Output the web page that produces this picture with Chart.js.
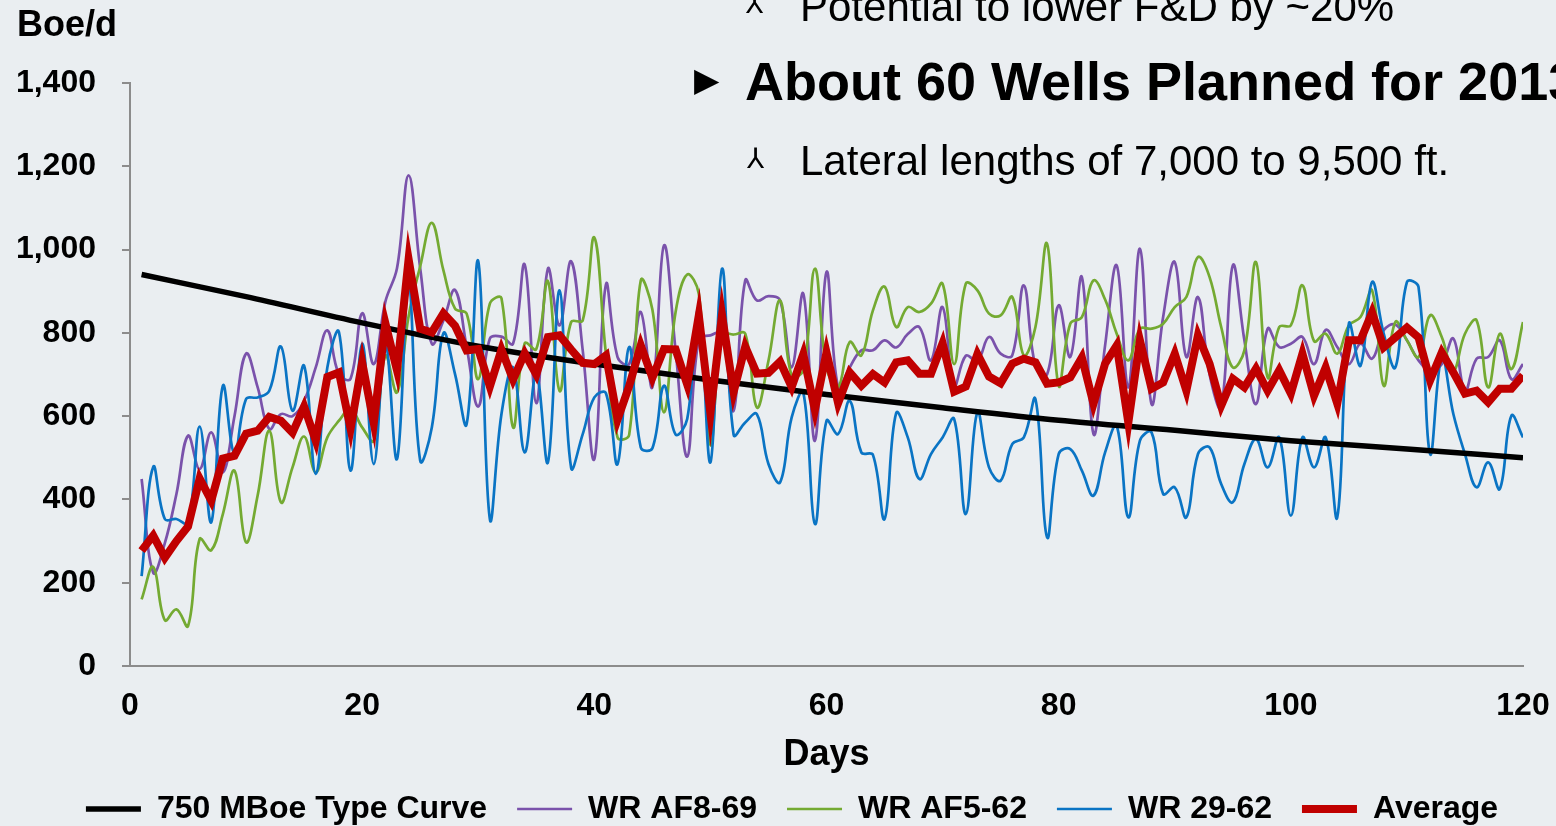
<!DOCTYPE html>
<html>
<head>
<meta charset="utf-8">
<script src="https://cdn.jsdelivr.net/npm/chart.js@4.4.0/dist/chart.umd.min.js"></script>
<style>
  html, body { margin: 0; padding: 0; background: #eaeef1; overflow: hidden; }
  #wrap { position: relative; width: 1556px; height: 826px; overflow: hidden; font-family: "Liberation Sans", Arial, sans-serif; }
  canvas { position: absolute; left: 0; top: 0; }
  .txt { position: absolute; white-space: nowrap; line-height: 1; color: #000; }
  .sym { font-family: "DejaVu Sans", sans-serif; }
</style>
</head>
<body>
<div id="wrap">
  <canvas id="chart" width="1556" height="826"></canvas>
  <div class="txt" style="left:17px; top:6px; font-size:36px; font-weight:bold;">Boe/d</div>
  <div class="txt sym" style="left:746px; top:-10px; font-size:28px;">&#x2144;</div>
  <div class="txt" style="left:800px; top:-14px; font-size:42px;">Potential to lower F&amp;D by ~20%</div>
  <div class="txt sym" style="left:694px; top:63px; font-size:33px;">&#x25B6;</div>
  <div class="txt" style="left:745px; top:54px; font-size:54px; font-weight:bold;">About 60 Wells Planned for 2013</div>
  <div class="txt sym" style="left:747px; top:145px; font-size:28px;">&#x2144;</div>
  <div class="txt" style="left:800px; top:140px; font-size:42px;">Lateral lengths of 7,000 to 9,500 ft.</div>
</div>
<script>
// days on production
var days = Array.from({ length: 120 }, function (_, i) { return i + 1; });

// 750 MBoe type curve (read at a few days, smooth line)
var typeDays = [1, 10, 20, 30, 40, 50, 60, 70, 80, 90, 100, 110, 120];
var typeCurve = [940, 887, 824, 768, 725, 687, 652, 620, 590, 566, 541, 521, 500];

var wrAF869 = [449,224,295,413,553,473,561,465,600,750, 669,569,605,600,637,717,806,700,690,847,
  725,875,955,1178,955,774,830,903,766,623, 786,791,774,964,631,954,818,972,758,497,
  916,742,725,850,669,1010,758,503,785,794, 800,613,926,878,888,878,717,894,541,946,
  669,717,758,758,782,765,797,814,734,862, 673,745,733,790,750,746,914,720,700,866,
  742,934,557,770,962,669,1002,629,838,970, 742,886,700,620,962,782,629,810,766,774,
  790,725,807,766,725,774,738,806,820,782, 734,709,725,786,661,738,742,782,689,725];

var wrAF562 = [160,238,110,136,96,305,278,365,469,297, 410,565,393,477,551,465,549,589,617,573,
  541,745,657,840,960,1064,950,858,846,689, 870,883,573,775,761,924,661,826,830,1029,
  750,549,555,926,856,609,850,940,894,531, 796,796,798,621,733,878,697,710,954,717,
  669,778,746,854,911,814,862,850,870,918, 725,918,902,846,842,886,746,814,1014,673,
  822,838,926,880,798,734,810,810,822,862, 886,982,934,814,717,758,970,693,814,818,
  914,780,798,750,818,838,902,673,826,782, 742,842,790,709,798,830,669,798,713,826];

var wr2962 = [216,478,353,353,342,575,345,673,509,641, 645,661,767,613,721,461,717,802,469,774,
  485,774,497,910,493,573,799,701,581,972, 353,605,717,513,701,489,902,476,557,645,
  655,485,766,525,523,673,556,593,858,489, 954,555,585,605,485,441,597,657,341,589,
  557,637,513,507,353,607,549,449,509,549, 593,365,609,477,445,533,549,641,309,509,
  521,469,409,513,577,357,541,561,413,429, 357,509,525,437,393,485,545,477,549,361,
  549,477,549,357,822,721,922,798,717,922, 910,509,742,605,509,429,489,425,601,549];

var average = [277,313,260,300,335,450,397,498,505,558, 565,598,589,560,623,541,694,705,570,729,
  583,823,710,977,810,801,847,817,758,761, 671,760,688,751,700,790,794,760,728,725,
  746,592,672,770,692,761,760,676,842,607, 843,658,767,702,704,731,670,749,615,753,
  631,705,673,701,681,729,734,702,702,775, 659,671,749,695,679,726,738,729,678,681,
  693,741,630,726,770,584,782,666,681,750, 661,794,726,625,690,669,714,661,710,654,
  750,649,717,630,782,782,849,765,789,813, 789,686,753,705,654,661,633,666,666,698];

function pts(xs, ys) {
  return xs.map(function (x, i) { return { x: x, y: ys[i] }; });
}

var fam = '"Liberation Sans", Arial, sans-serif';

var ctx = document.getElementById('chart');
var chart = new Chart(ctx, {
  type: 'line',
  data: {
    datasets: [{
      label: '750 MBoe Type Curve',
      data: pts(typeDays, typeCurve),
      borderColor: '#000000',
      backgroundColor: '#000000',
      borderWidth: 5.5,
      cubicInterpolationMode: 'monotone',
      pointRadius: 0,
      order: 1
    }, {
      label: 'WR AF8-69',
      data: pts(days, wrAF869),
      borderColor: '#7a52ab',
      backgroundColor: '#7a52ab',
      borderWidth: 2.7,
      tension: 0.4,
      pointRadius: 0,
      order: 4
    }, {
      label: 'WR AF5-62',
      data: pts(days, wrAF562),
      borderColor: '#74aa32',
      backgroundColor: '#74aa32',
      borderWidth: 2.7,
      tension: 0.4,
      pointRadius: 0,
      order: 3
    }, {
      label: 'WR 29-62',
      data: pts(days, wr2962),
      borderColor: '#0a74c4',
      backgroundColor: '#0a74c4',
      borderWidth: 2.7,
      tension: 0.4,
      pointRadius: 0,
      order: 2
    }, {
      label: 'Average',
      data: pts(days, average),
      borderColor: '#c00000',
      backgroundColor: '#c00000',
      borderWidth: 8,
      tension: 0,
      pointRadius: 0,
      order: 0
    }]
  },
  options: {
    responsive: false,
    animation: false,
    // negative right/bottom padding so the legend sits where the slide had it
    layout: { padding: { left: 0, right: -28, top: 83, bottom: -9 } },
    scales: {
      x: {
        type: 'linear',
        min: 0,
        max: 120,
        afterFit: function (s) { s.height = 97; },
        ticks: { stepSize: 20, color: '#000', padding: 0, font: { family: fam, size: 32, weight: 'bold' } },
        grid: { display: false, drawTicks: true, tickLength: 21 },
        border: { display: true, color: '#8c8c8c', width: 2 },
        title: { display: true, text: 'Days', color: '#000', padding: { top: 0, bottom: -13.5 }, font: { family: fam, size: 36, weight: 'bold' } }
      },
      y: {
        min: 0,
        max: 1400,
        afterFit: function (s) { s.width = 130; },
        ticks: { stepSize: 200, color: '#000', padding: 26, font: { family: fam, size: 32, weight: 'bold' } },
        grid: { display: true, drawOnChartArea: false, drawTicks: true, tickLength: 8, color: '#8c8c8c', lineWidth: 2 },
        border: { display: true, color: '#8c8c8c', width: 2 }
      },
      // empty spacer on the right, keeps the plot edge at day 120
      spacer: {
        type: 'linear',
        position: 'right',
        display: true,
        afterFit: function (s) { s.width = 61; },
        ticks: { display: false },
        grid: { display: false },
        border: { display: false }
      }
    },
    plugins: {
      tooltip: { enabled: false },
      legend: {
        position: 'bottom',
        labels: {
          usePointStyle: true,
          pointStyle: 'line',
          pointStyleWidth: 55,
          padding: 30,
          color: '#000',
          font: { family: fam, size: 32, weight: 'bold' },
          sort: function (a, b) { return a.datasetIndex - b.datasetIndex; }
        }
      }
    }
  }
});
</script>
</body>
</html>
